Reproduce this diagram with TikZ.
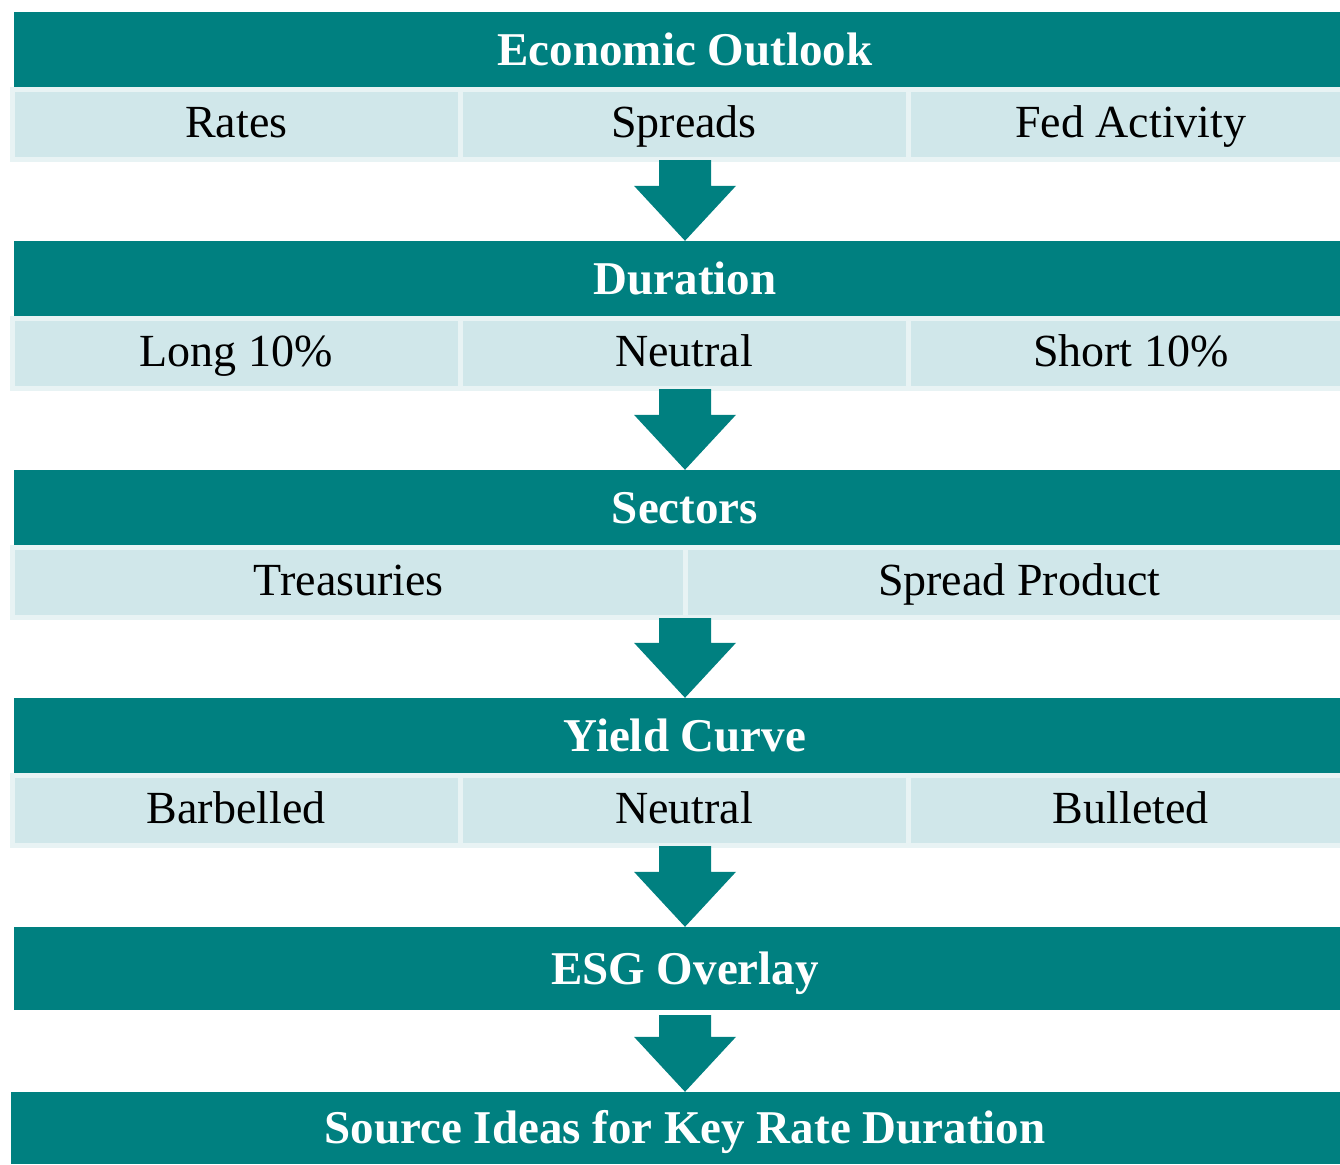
\documentclass[tikz,border=0pt]{standalone}
\usepackage{fontspec}
\setmainfont{Liberation Serif}
\usetikzlibrary{calc}
\definecolor{tealhd}{HTML}{008080}
\definecolor{cellfill}{HTML}{D0E7EA}
\definecolor{cellrim}{HTML}{E8F3F4}
\tikzset{
  hdr/.style={fill=tealhd, inner sep=0pt, minimum width=1342pt, minimum height=75pt,
    text height=31pt, text depth=0pt,
    text=white, font=\fontsize{47}{52}\selectfont\bfseries},
  rowbg/.style={fill=cellrim, inner sep=0pt, minimum width=1346pt, minimum height=75pt},
  cellbox/.style={fill=cellfill, inner sep=0pt, minimum height=65pt,
    text height=31pt, text depth=6pt,
    text=black, font=\fontsize{46}{52}\selectfont},
  arrowfill/.style={fill=tealhd}
}
\newcommand\blockarr[2]{%
  \path[arrowfill] let \p1=(#1), \p2=(#2) in
    (\x1-26pt,\y1) -- (\x1+26pt,\y1) -- (\x1+26pt,\y2+55pt) -- (\x1+51pt,\y2+55pt)
    -- (\x1,\y2) -- (\x1-51pt,\y2+55pt) -- (\x1-26pt,\y2+55pt) -- cycle;}
\begin{document}
\begin{tikzpicture}[x=1pt,y=-1pt]
\useasboundingbox[fill=white] (0,0) rectangle (1340,1164);
% headers
\node[hdr] (h1) at (685,49.5) {Economic Outlook};
\node[hdr] (h2) at (685,278.5) {Duration};
\node[hdr] (h3) at (685,507.5) {Sectors};
\node[hdr] (h4) at (685,735.5) {Yield Curve};
\node[hdr, minimum height=83pt] (h5) at (685,968.5) {ESG Overlay};
\node[hdr, minimum width=1348pt, minimum height=72pt] (h6) at (685,1128) {Source Ideas for Key Rate Duration};
% row backgrounds
\node[rowbg] (r1) at (683,124.5) {};
\node[rowbg] (r2) at (683,353.5) {};
\node[rowbg] (r3) at (683,582.5) {};
\node[rowbg] (r4) at (683,810.5) {};
% row 1
\node[cellbox, minimum width=442.5pt] (c11) at (236.25,124.5) {Rates};
\node[cellbox, minimum width=443pt] (c12) at (684,124.5) {Spreads};
\node[cellbox, minimum width=440.5pt] (c13) at (1130.75,124.5) {Fed Activity};
% row 2
\node[cellbox, minimum width=442.5pt] (c21) at (236.25,353.5) {Long 10\%};
\node[cellbox, minimum width=443pt] (c22) at (684,353.5) {Neutral};
\node[cellbox, minimum width=440.5pt] (c23) at (1130.75,353.5) {Short 10\%};
% row 3
\node[cellbox, minimum width=667.5pt] (c31) at (348.75,582.5) {Treasuries};
\node[cellbox, minimum width=663.5pt] (c32) at (1019.25,582.5) {Spread Product};
% row 4
\node[cellbox, minimum width=442.5pt] (c41) at (236.25,810.5) {Barbelled};
\node[cellbox, minimum width=443pt] (c42) at (684,810.5) {Neutral};
\node[cellbox, minimum width=440.5pt] (c43) at (1130.75,810.5) {Bulleted};
% arrows
\coordinate (a1s) at ($(h2.north |- r1.south)+(0,-2)$);
\coordinate (a2s) at ($(h3.north |- r2.south)+(0,-2)$);
\coordinate (a3s) at ($(h4.north |- r3.south)+(0,-2)$);
\coordinate (a4s) at ($(h5.north |- r4.south)+(0,-2)$);
\coordinate (a5s) at ($(h5.south)+(0,5)$);
\blockarr{a1s}{h2.north}
\blockarr{a2s}{h3.north}
\blockarr{a3s}{h4.north}
\blockarr{a4s}{h5.north}
\blockarr{a5s}{h6.north}
\end{tikzpicture}
\end{document}
